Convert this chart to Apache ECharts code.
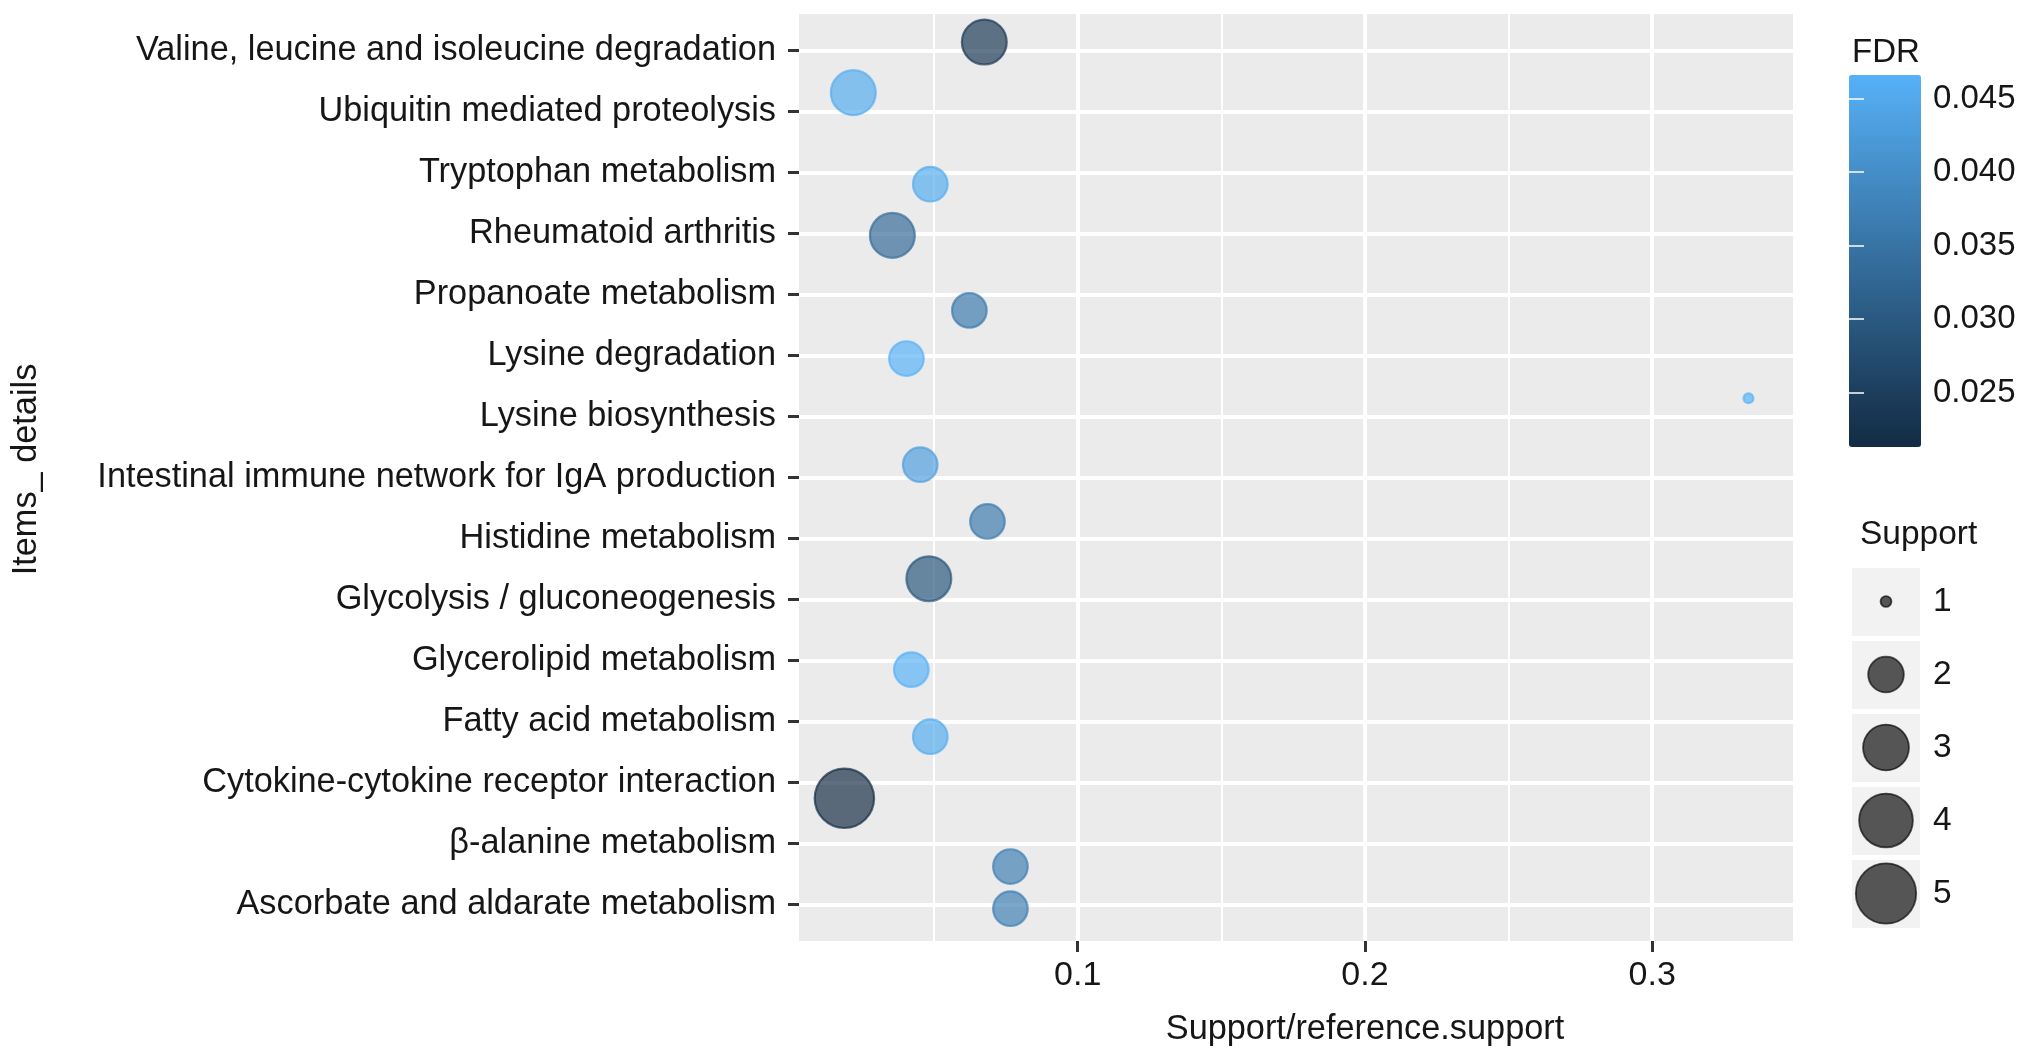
<!DOCTYPE html>
<html>
<head>
<meta charset="utf-8">
<script src="https://cdn.jsdelivr.net/npm/echarts@6/dist/echarts.min.js"></script>
<style>
html,body{margin:0;padding:0;background:#fff;}
#chart{width:2031px;height:1059px;}
</style>
</head>
<body>
<div id="chart"></div>
<script>
// Categories, top to bottom as shown on the y axis
const categories = [
  'Valine, leucine and isoleucine degradation',
  'Ubiquitin mediated proteolysis',
  'Tryptophan metabolism',
  'Rheumatoid arthritis',
  'Propanoate metabolism',
  'Lysine degradation',
  'Lysine biosynthesis',
  'Intestinal immune network for IgA production',
  'Histidine metabolism',
  'Glycolysis / gluconeogenesis',
  'Glycerolipid metabolism',
  'Fatty acid metabolism',
  'Cytokine-cytokine receptor interaction',
  '\u03b2-alanine metabolism',
  'Ascorbate and aldarate metabolism'
];
// Support/reference.support (x)
const ratio = [0.0675, 0.0219, 0.0487, 0.0355, 0.0623, 0.0404, 0.3335, 0.0452, 0.0686, 0.0482, 0.0421, 0.0487, 0.0188, 0.0766, 0.0766];
// Support (point size)
const support = [3, 3, 2, 3, 2, 2, 1, 2, 2, 3, 2, 2, 5, 2, 2];
// FDR (colour)
const fdr = [0.0235, 0.0455, 0.0455, 0.0330, 0.0360, 0.0466, 0.0466, 0.0430, 0.0360, 0.0290, 0.0466, 0.0455, 0.0213, 0.0370, 0.0370];
// vertical jitter of each point (in category units, + = up)
const jitterY = [0.14, 0.31, -0.19, -0.03, -0.26, -0.05, 0.30, 0.21, 0.28, 0.34, -0.15, -0.25, -0.26, -0.38, -0.07];

const xTicks = [0.1, 0.2, 0.3];
const xMinorTicks = [0.05, 0.15, 0.25];
const fdrTicks = [0.025, 0.030, 0.035, 0.040, 0.045];
const sizeBreaks = [1, 2, 3, 4, 5];
const fdrColors = ['#132B43', '#56B1F7'];

const FONT = "'Liberation Sans', Arial, sans-serif";
const TXT = '#161616';
const n = categories.length;
const yTicks = categories.map((c, i) => n - i);
const fdrMin = Math.min.apply(null, fdr);
const fdrMax = Math.max.apply(null, fdr);
const sMin = Math.min.apply(null, sizeBreaks), sMax = Math.max.apply(null, sizeBreaks);
// ggplot-like area scale (range 1..6)
function sizeScale(v) {
  return 9.9 * (1 + 5 * Math.sqrt((v - sMin) / (sMax - sMin)));
}

const pointData = categories.map((c, i) => ({
  value: [ratio[i], n - i + jitterY[i], support[i], fdr[i], c],
  itemStyle: {borderColor: echarts.color.lerp((fdr[i] - fdrMin) / (fdrMax - fdrMin), fdrColors)}
}));

const chart = echarts.init(document.getElementById('chart'), null, {renderer: 'canvas'});
chart.setOption({
  animation: false,
  backgroundColor: '#ffffff',
  textStyle: {fontFamily: FONT},
  title: [
    {text: 'FDR', left: 1852, top: 36, padding: 0,
     textStyle: {fontSize: 33, fontWeight: 'normal', color: TXT, fontFamily: FONT}},
    {text: 'Support', left: 1860, top: 518, padding: 0,
     textStyle: {fontSize: 33.5, fontWeight: 'normal', color: TXT, fontFamily: FONT}}
  ],
  grid: [
    {left: 799, top: 14, width: 994, height: 927, show: true, backgroundColor: '#EBEBEB', borderWidth: 0},
    {left: 1849, top: 75, width: 72, height: 372, show: false},
    {left: 1852, top: 565, width: 68, height: 365, show: false}
  ],
  xAxis: [
    {
      type: 'value', gridIndex: 0, min: 0.003, max: 0.349,
      axisLine: {show: false},
      axisTick: {show: true, length: 11, customValues: xTicks, lineStyle: {color: '#333', width: 3}},
      axisLabel: {customValues: xTicks, fontSize: 34, color: TXT, margin: 18, fontFamily: FONT,
                  formatter: v => String(v)},
      splitLine: {show: true, lineStyle: {color: '#ffffff', width: 4}},
      name: 'Support/reference.support', nameLocation: 'middle', nameGap: 72,
      nameTextStyle: {fontSize: 34.3, color: TXT, fontFamily: FONT, padding: [0, 0, 0, 138]}
    },
    {
      type: 'value', gridIndex: 0, min: 0.003, max: 0.349, position: 'top',
      axisLine: {show: false},
      axisTick: {show: false, customValues: xMinorTicks},
      axisLabel: {show: false, customValues: xMinorTicks},
      splitLine: {show: true, lineStyle: {color: '#ffffff', width: 2}}
    },
    {type: 'value', gridIndex: 1, show: false, min: 0, max: 1},
    {type: 'category', gridIndex: 2, show: false, data: ['']}
  ],
  yAxis: [
    {
      type: 'value', gridIndex: 0, min: 0.4, max: 15.6,
      axisLine: {show: false},
      axisTick: {show: true, length: 11, customValues: yTicks, lineStyle: {color: '#333', width: 3}},
      axisLabel: {customValues: yTicks, fontSize: 34.3, color: TXT, margin: 23, fontFamily: FONT,
                  formatter: v => categories[n - Math.round(v)]},
      splitLine: {show: true, lineStyle: {color: '#ffffff', width: 4}},
      name: 'Items_ details', nameLocation: 'middle', nameGap: 755, nameRotate: 90,
      nameTextStyle: {fontSize: 34.3, color: TXT, fontFamily: FONT, padding: [0, 0, 0, 16]}
    },
    {
      type: 'value', gridIndex: 1, min: fdrMin, max: fdrMax, position: 'right', z: 10,
      axisLine: {show: false},
      axisTick: {show: true, inside: true, length: 15, customValues: fdrTicks,
                 lineStyle: {color: 'rgba(255,255,255,0.75)', width: 2}},
      axisLabel: {customValues: fdrTicks, fontSize: 33, color: TXT, margin: 12, fontFamily: FONT,
                  formatter: v => v.toFixed(3)},
      splitLine: {show: false}
    },
    {
      type: 'value', gridIndex: 1, min: fdrMin, max: fdrMax, position: 'left', z: 10,
      axisLine: {show: false},
      axisTick: {show: true, inside: true, length: 15, customValues: fdrTicks,
                 lineStyle: {color: 'rgba(255,255,255,0.75)', width: 2}},
      axisLabel: {show: false},
      splitLine: {show: false}
    },
    {
      type: 'category', gridIndex: 2, data: sizeBreaks.map(String), inverse: true, position: 'right',
      axisLine: {show: false}, axisTick: {show: false},
      axisLabel: {fontSize: 33.5, color: TXT, margin: 13, fontFamily: FONT},
      splitArea: {show: true, interval: 0, areaStyle: {color: ['#F2F2F2']}},
      splitLine: {show: true, interval: 0, lineStyle: {color: '#ffffff', width: 5}}
    }
  ],
  visualMap: [{
    type: 'continuous', seriesIndex: 0, dimension: 3,
    min: fdrMin, max: fdrMax,
    inRange: {color: fdrColors},
    calculable: false, showLabel: false, text: null,
    orient: 'vertical', left: 1849, top: 75, padding: 0,
    itemWidth: 72, itemHeight: 372
  }],
  series: [
    {
      type: 'scatter', xAxisIndex: 0, yAxisIndex: 0,
      data: pointData,
      symbol: 'circle',
      symbolSize: val => sizeScale(val[2]),
      itemStyle: {opacity: 0.68, borderWidth: 2.2},
      emphasis: {disabled: true}
    },
    {
      type: 'scatter', xAxisIndex: 3, yAxisIndex: 3,
      data: sizeBreaks.map(s => [0, String(s), s]),
      symbol: 'circle',
      symbolSize: val => sizeScale(val[2]) + 1,
      itemStyle: {color: '#000000', opacity: 0.65, borderColor: '#000', borderWidth: 1.8},
      emphasis: {disabled: true}
    }
  ]
});
</script>
</body>
</html>
